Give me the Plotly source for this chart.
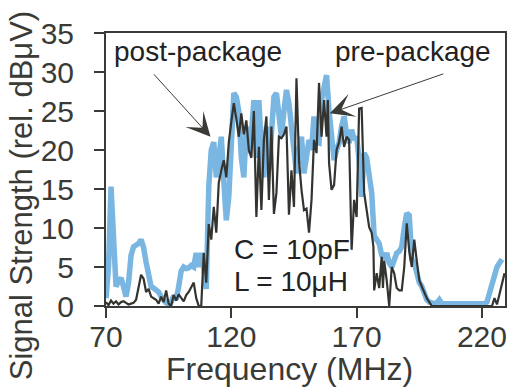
import plotly.graph_objects as go

# pre-package (dark thin line)
pre_freq = [70, 71, 72, 73, 74, 75, 76, 77, 78, 79, 80, 81, 82, 83, 84, 85, 86, 87, 88, 89,
            90, 91, 92, 93, 94, 95, 96, 97, 98, 99, 100, 101, 102, 103, 104, 105, 106, 107, 108, 109,
            110, 111, 112, 113, 114, 115, 116, 117, 118, 119, 120, 121, 122, 123, 124, 125, 126, 127, 128, 129,
            130, 131, 132, 133, 134, 135, 136, 137, 138, 139, 140, 141, 142, 143, 144, 145, 146, 147, 148, 149,
            150, 151, 152, 153, 154, 155, 156, 157, 158, 158.5, 159, 160, 161, 162, 163, 164, 165, 166, 167, 168,
            169, 170, 171, 172, 173, 174, 175, 176, 176.7, 177, 178, 179, 180, 180.5, 181, 182, 183, 184, 185, 186,
            187, 188, 189, 190, 191, 192, 193, 194, 195, 196, 197, 198, 199, 200, 205, 210, 215, 220, 224,
            225, 226, 227, 228, 229]
pre_level = [0.5, 0.1, 0.7, 0.3, 0.6, 0.2, 0.5, 0.6, 0.4, 0.2, 0.3, 0.4, 0.8, 2.5, 4.0, 3.5, 1.8, 2.2, 1.2, 1.0,
             0.8, 0.3, 1.2, 0.5, 2.0, 0.3, 0.0, 1.4, 0.7, 1.5, 1.1, 0.6, 1.4, 1.8, 2.4, 3.0, 1.0, 0.0, 0.0, 6.8,
             3.0, 10.5, 8.5, 12.7, 9.4, 15.8, 17.4, 18.7, 16.5, 21.0, 23.6, 26.0, 24.0, 21.7, 24.7, 22.0, 23.8, 20.0, 19.0, 25.0,
             11.4, 20.4, 12.3, 21.3, 24.3, 13.6, 23.0, 11.8, 14.5, 21.7, 21.5, 22.0, 23.0, 11.7, 17.4, 12.7, 29.2, 18.7, 14.9, 12.3,
             12.5, 9.4, 13.6, 21.3, 19.6, 28.6, 21.7, 26.4, 21.7, 26.4, 18.3, 14.9, 15.5, 20.0, 21.0, 23.0, 20.4, 21.7, 21.3, 7.2,
             13.6, 11.4, 25.3, 25.4, 14.5, 12.3, 10.1, 9.4, 7.6, 2.0, 4.2, 2.3, 6.3, 2.3, 5.8, 3.3, 0.0, 5.0, 4.2, 2.3,
             2.0, 2.0, 5.0, 10.6, 7.0, 5.0, 8.5, 5.8, 3.3, 2.5, 1.7, 1.0, 0.5, 0.0, 0.0, 0.0, 0.0, 0.0, 0.0,
             1.0, 0.2, 1.5, 3.0, 4.2]

# post-package (light blue thick line)
post_freq = [70, 71, 72, 73, 74, 75, 76, 77, 78, 79, 80, 81, 82, 83, 84, 85, 86, 87, 88, 89,
             90, 91, 92, 93, 94, 95, 96, 97, 98, 99, 100, 101, 102, 103, 104, 105, 106, 107, 108, 109,
             110, 111, 112, 113, 114, 115, 116, 117, 118, 119, 120, 121, 122, 123, 124, 125, 126, 127, 128, 129,
             130, 131, 132, 133, 134, 135, 136, 137, 138, 139, 140, 141, 142, 143, 144, 145, 146, 147, 148, 149,
             150, 151, 152, 153, 154, 155, 156, 157, 158, 159, 160, 161, 162, 163, 164, 165, 166, 167, 168, 169,
             170, 171, 172, 173, 174, 175, 176, 177, 178, 179, 180, 181, 182, 183, 184, 185, 186, 187, 188, 189,
             190, 191, 192, 193, 194, 195, 196, 197, 198, 199, 200, 201, 202, 203, 204, 210, 215, 221, 222,
             223, 224, 225, 226, 227, 228]
post_level = [1.0, 5.0, 15.3, 9.0, 2.5, 3.2, 3.6, 2.5, 1.2, 3.0, 6.5, 7.6, 7.8, 8.0, 8.5, 7.5, 5.6, 4.0, 2.5, 2.3,
              2.1, 1.8, 1.2, 0.8, 0.4, 0.3, 0.5, 1.3, 0.8, 2.5, 4.5, 5.0, 4.8, 4.9, 5.2, 5.0, 6.8, 5.0, 6.8, 5.0,
              2.2, 15.3, 20.0, 21.0, 16.5, 19.0, 21.7, 16.0, 11.0, 14.0, 22.0, 27.3, 26.8, 25.0, 19.0, 16.5, 23.0, 19.6, 22.0, 26.4,
              19.0, 26.4, 20.0, 16.5, 23.0, 17.4, 22.0, 26.8, 27.3, 24.0, 21.7, 25.0, 27.7, 26.0, 23.0, 20.0, 17.0, 20.0, 21.7, 17.0,
              19.0, 21.3, 20.0, 24.3, 21.0, 20.9, 26.4, 27.7, 29.6, 25.0, 20.9, 18.7, 20.0, 20.9, 23.0, 24.3, 22.0, 20.9, 22.6, 21.3,
              21.7, 18.7, 14.0, 19.6, 19.0, 16.5, 14.5, 9.0, 8.5, 8.0, 6.5, 6.0, 6.8, 5.5, 5.0, 6.0, 6.8, 7.0, 7.6, 10.0,
              11.9, 11.6, 6.0, 5.5, 4.2, 3.0, 2.5, 1.5, 0.8, 0.5, 0.3, 0.3, 0.4, 0.8, 0.3, 0.3, 0.3, 0.3, 0.5,
              1.6, 3.0, 4.2, 5.0, 5.5, 6.0]

x_ticks = [70, 120, 170, 220]
y_ticks = [0, 5, 10, 15, 20, 25, 30, 35]

INK = "#3a3a36"
BLUE = "#7ab6e2"
FONT = "Liberation Sans, Arial, sans-serif"

fig = go.Figure()
fig.add_trace(go.Scatter(x=post_freq, y=post_level, mode="lines",
                         line=dict(color=BLUE, width=5.5), name="post-package"))
fig.add_trace(go.Scatter(x=pre_freq, y=pre_level, mode="lines",
                         line=dict(color="#333330", width=2.2), name="pre-package"))

fig.update_layout(
    width=508, height=387,
    margin=dict(l=106, r=1, t=33, b=81),
    plot_bgcolor="white", paper_bgcolor="white",
    showlegend=False,
    font=dict(family=FONT, color=INK, size=30),
)
fig.update_xaxes(range=[70, 229.2], tickvals=x_ticks, ticks="outside", ticklen=10, tickwidth=2,
                 tickcolor=INK, showline=True, linewidth=2, linecolor=INK, mirror=True,
                 showgrid=False, zeroline=False, tickfont=dict(size=30, color=INK),
                 ticklabelstandoff=-7)
fig.update_yaxes(range=[0, 35], tickvals=y_ticks, ticks="outside", ticklen=10, tickwidth=2,
                 tickcolor=INK, showline=True, linewidth=2, linecolor=INK, mirror=True,
                 showgrid=False, zeroline=False, tickfont=dict(size=30, color=INK),
                 ticklabelstandoff=14)

# axis titles
fig.add_annotation(text="Frequency (MHz)", xref="paper", yref="paper", x=0.461, y=-0.23,
                   showarrow=False, font=dict(size=32, color=INK), xanchor="center", yanchor="middle")
fig.add_annotation(text="Signal Strength (rel. dBμV)", xref="paper", yref="paper", x=-0.21, y=0.403,
                   showarrow=False, textangle=-90, font=dict(size=31, color=INK),
                   xanchor="center", yanchor="middle")

# labels with arrows
fig.add_annotation(text="", x=111.7, y=21.7, ax=-58, ay=-64, showarrow=True,
                   arrowhead=3, arrowsize=4, arrowwidth=1, arrowcolor=INK)
fig.add_annotation(text="", x=159.3, y=24.7, ax=115, ay=-40, showarrow=True,
                   arrowhead=3, arrowsize=4, arrowwidth=1, arrowcolor=INK)
fig.add_annotation(text="post-package", x=106.9, y=32.6, showarrow=False,
                   font=dict(size=28, color="#222"), xanchor="center", yanchor="middle")
fig.add_annotation(text="pre-package", x=192.6, y=32.6, showarrow=False,
                   font=dict(size=28, color="#222"), xanchor="center", yanchor="middle")
fig.add_annotation(text="C = 10pF", x=120.4, y=7.3, showarrow=False,
                   font=dict(size=28, color="#222"), xanchor="left", yanchor="middle")
fig.add_annotation(text="L = 10μH", x=120.4, y=3.2, showarrow=False,
                   font=dict(size=28, color="#222"), xanchor="left", yanchor="middle")

fig.write_html("out.html")
